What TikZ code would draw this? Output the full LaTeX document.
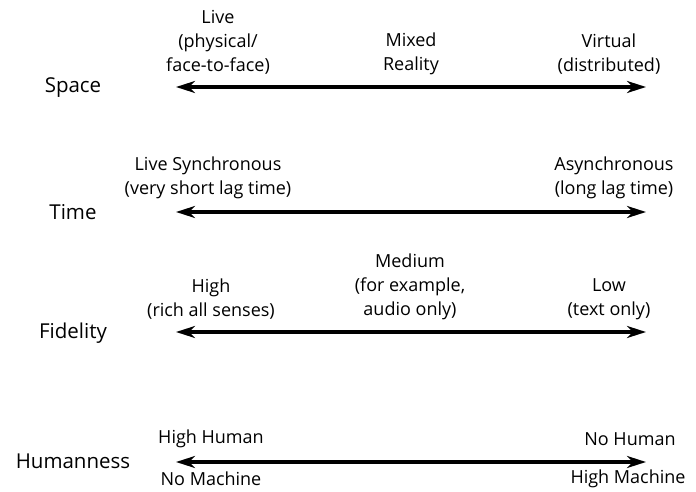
\documentclass[tikz,border=0pt]{standalone}
\usepackage{fontspec}
\setmainfont{Open Sans}
\usetikzlibrary{arrows.meta}
\begin{document}
\begin{tikzpicture}[x=1pt,y=-1pt,
  lbl/.style={font=\fontsize{18}{24}\selectfont, align=center, inner sep=0pt, anchor=center},
  axis/.style={font=\fontsize{20.5}{24}\selectfont, inner sep=0pt, anchor=center},
  tip/.style={Stealth[length=19pt,width=12pt,inset=6pt]},
  bar/.style={line width=3.6pt, {Stealth[length=19pt,width=12pt,inset=6pt]}-{Stealth[length=19pt,width=12pt,inset=6pt]}}]
\useasboundingbox (0,0) rectangle (696,492);
% Space
\node[axis] (space) at (73,88) {Space};
\coordinate (s1) at (176,87); \coordinate (s2) at (646,87);
\draw[bar] (s1) -- (s2);
\node[lbl] (live) at (218,42) {Live\\(physical/\\face-to-face)};
\node[lbl] (mixed) at (411,54) {Mixed\\Reality};
\node[lbl] (virtual) at (609,54) {Virtual\\(distributed)};
% Time
\node[axis] (time) at (73,212) {Time};
\coordinate (t1) at (176,212); \coordinate (t2) at (646,212);
\draw[bar] (t1) -- (t2);
\node[lbl] (sync) at (208,178) {Live Synchronous\\(very short lag time)};
\node[lbl] (async) at (614,178) {Asynchronous\\(long lag time)};
% Fidelity
\node[axis] (fid) at (73,333) {Fidelity};
\coordinate (f1) at (176,332); \coordinate (f2) at (646,332);
\draw[bar] (f1) -- (f2);
\node[lbl] (high) at (211,299) {High\\(rich all senses)};
\node[lbl] (medium) at (410,287) {Medium\\(for example,\\audio only)};
\node[lbl] (low) at (609,299) {Low\\(text only)};
% Humanness
\node[axis] (hum) at (73,461) {Humanness};
\coordinate (h1) at (176,462); \coordinate (h2) at (646,462);
\draw[bar] (h1) -- (h2);
\node[lbl] (hh) at (211,439) {High Human};
\node[lbl] (nm) at (211,479) {No Machine};
\node[lbl] (nh) at (630,439) {No Human};
\node[lbl] (hm) at (628,479) {High Machine};
\end{tikzpicture}
\end{document}
